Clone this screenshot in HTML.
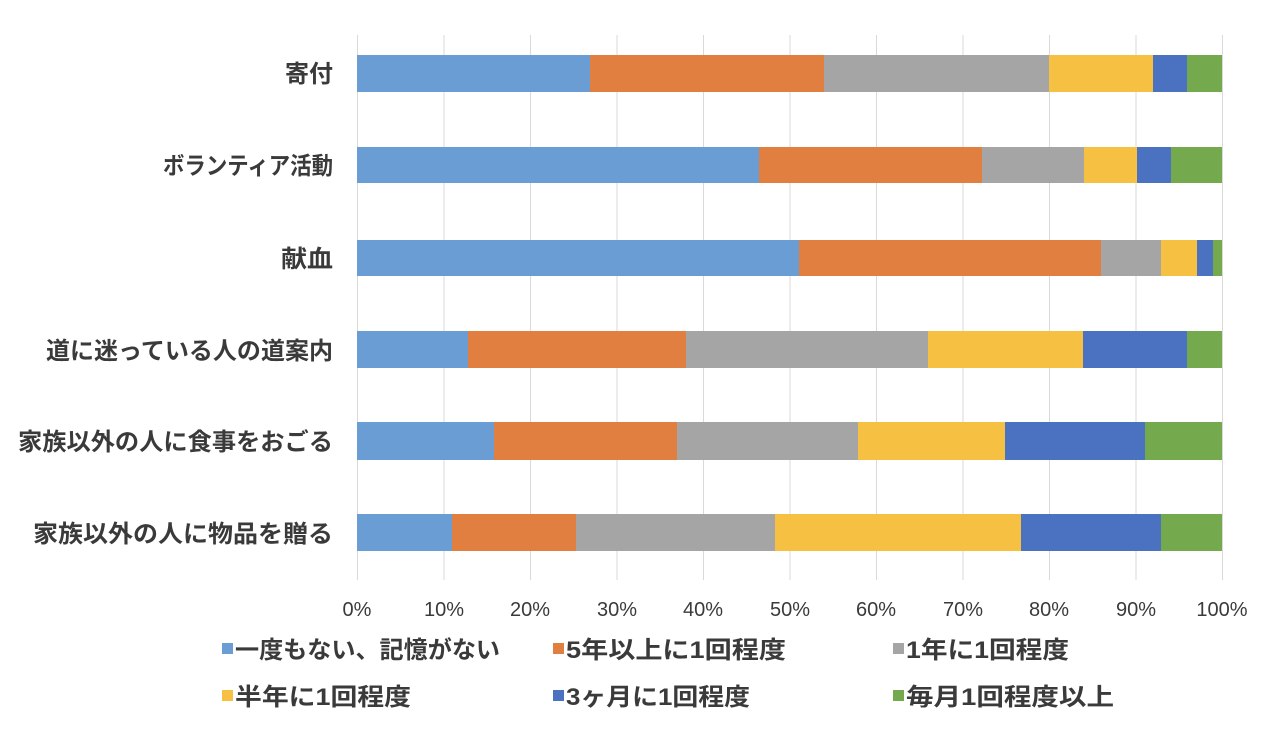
<!DOCTYPE html>
<html><head><meta charset="utf-8"><style>
html,body{margin:0;padding:0;background:#fff;}
svg{display:block;font-family:"Liberation Sans","Noto Sans CJK JP",sans-serif;}
</style></head><body>
<svg width="1280" height="743" viewBox="0 0 1280 743" xmlns="http://www.w3.org/2000/svg">
<rect width="1280" height="743" fill="#fff"/>
<g stroke="#d9d9d9" stroke-width="1">
<line x1="357.5" y1="35" x2="357.5" y2="580"/>
<line x1="444" y1="35" x2="444" y2="580"/>
<line x1="530.5" y1="35" x2="530.5" y2="580"/>
<line x1="617" y1="35" x2="617" y2="580"/>
<line x1="703.5" y1="35" x2="703.5" y2="580"/>
<line x1="790" y1="35" x2="790" y2="580"/>
<line x1="876.5" y1="35" x2="876.5" y2="580"/>
<line x1="963" y1="35" x2="963" y2="580"/>
<line x1="1049.5" y1="35" x2="1049.5" y2="580"/>
<line x1="1136" y1="35" x2="1136" y2="580"/>
<line x1="1222.5" y1="35" x2="1222.5" y2="580"/>
</g>
<g>
<rect x="357" y="55" width="233" height="37" fill="#6a9dd3"/>
<rect x="590" y="55" width="234" height="37" fill="#e07f3f"/>
<rect x="824" y="55" width="225" height="37" fill="#a5a5a5"/>
<rect x="1049" y="55" width="104" height="37" fill="#f6c142"/>
<rect x="1153" y="55" width="34" height="37" fill="#4a72c0"/>
<rect x="1187" y="55" width="35" height="37" fill="#75a94d"/>
</g>
<g>
<rect x="357" y="147" width="402" height="36" fill="#6a9dd3"/>
<rect x="759" y="147" width="223" height="36" fill="#e07f3f"/>
<rect x="982" y="147" width="102" height="36" fill="#a5a5a5"/>
<rect x="1084" y="147" width="53" height="36" fill="#f6c142"/>
<rect x="1137" y="147" width="34" height="36" fill="#4a72c0"/>
<rect x="1171" y="147" width="51" height="36" fill="#75a94d"/>
</g>
<g>
<rect x="357" y="240" width="442" height="36" fill="#6a9dd3"/>
<rect x="799" y="240" width="302" height="36" fill="#e07f3f"/>
<rect x="1101" y="240" width="60" height="36" fill="#a5a5a5"/>
<rect x="1161" y="240" width="36" height="36" fill="#f6c142"/>
<rect x="1197" y="240" width="16" height="36" fill="#4a72c0"/>
<rect x="1213" y="240" width="9" height="36" fill="#75a94d"/>
</g>
<g>
<rect x="357" y="331" width="111" height="37" fill="#6a9dd3"/>
<rect x="468" y="331" width="218" height="37" fill="#e07f3f"/>
<rect x="686" y="331" width="242" height="37" fill="#a5a5a5"/>
<rect x="928" y="331" width="155" height="37" fill="#f6c142"/>
<rect x="1083" y="331" width="104" height="37" fill="#4a72c0"/>
<rect x="1187" y="331" width="35" height="37" fill="#75a94d"/>
</g>
<g>
<rect x="357" y="422" width="137" height="38" fill="#6a9dd3"/>
<rect x="494" y="422" width="183" height="38" fill="#e07f3f"/>
<rect x="677" y="422" width="181" height="38" fill="#a5a5a5"/>
<rect x="858" y="422" width="147" height="38" fill="#f6c142"/>
<rect x="1005" y="422" width="140" height="38" fill="#4a72c0"/>
<rect x="1145" y="422" width="77" height="38" fill="#75a94d"/>
</g>
<g>
<rect x="357" y="514" width="95" height="37" fill="#6a9dd3"/>
<rect x="452" y="514" width="124" height="37" fill="#e07f3f"/>
<rect x="576" y="514" width="199" height="37" fill="#a5a5a5"/>
<rect x="775" y="514" width="246" height="37" fill="#f6c142"/>
<rect x="1021" y="514" width="140" height="37" fill="#4a72c0"/>
<rect x="1161" y="514" width="61" height="37" fill="#75a94d"/>
</g>
<g fill="#3a3a3a" font-size="24" font-weight="bold" text-anchor="end">
<text x="333" y="82" textLength="48" lengthAdjust="spacingAndGlyphs">寄付</text>
<text x="333" y="174" textLength="170" lengthAdjust="spacingAndGlyphs">ボランティア活動</text>
<text x="333" y="267" textLength="52" lengthAdjust="spacingAndGlyphs">献血</text>
<text x="333" y="359" textLength="287" lengthAdjust="spacingAndGlyphs">道に迷っている人の道案内</text>
<text x="333" y="450" textLength="315" lengthAdjust="spacingAndGlyphs">家族以外の人に食事をおごる</text>
<text x="333" y="542" textLength="300" lengthAdjust="spacingAndGlyphs">家族以外の人に物品を贈る</text>
</g>
<g fill="#3a3a3a" font-size="20" text-anchor="middle">
<text x="357" y="616">0%</text>
<text x="444" y="616">10%</text>
<text x="530" y="616">20%</text>
<text x="617" y="616">30%</text>
<text x="703" y="616">40%</text>
<text x="790" y="616">50%</text>
<text x="876" y="616">60%</text>
<text x="963" y="616">70%</text>
<text x="1049" y="616">80%</text>
<text x="1136" y="616">90%</text>
<text x="1222" y="616">100%</text>
</g>
<g font-size="24" font-weight="bold" fill="#3a3a3a">
<rect x="222" y="643" width="11" height="11" fill="#6a9dd3"/>
<text x="235" y="658" textLength="265" lengthAdjust="spacingAndGlyphs">一度もない、記憶がない</text>
<rect x="553" y="643" width="11" height="11" fill="#e07f3f"/>
<text x="566" y="658" textLength="220" lengthAdjust="spacingAndGlyphs">5年以上に1回程度</text>
<rect x="893" y="643" width="11" height="11" fill="#a5a5a5"/>
<text x="906" y="658" textLength="163" lengthAdjust="spacingAndGlyphs">1年に1回程度</text>
<rect x="222" y="690" width="11" height="11" fill="#f6c142"/>
<text x="235" y="705" textLength="176" lengthAdjust="spacingAndGlyphs">半年に1回程度</text>
<rect x="553" y="690" width="11" height="11" fill="#4a72c0"/>
<text x="566" y="705" textLength="184" lengthAdjust="spacingAndGlyphs">3ヶ月に1回程度</text>
<rect x="893" y="690" width="11" height="11" fill="#75a94d"/>
<text x="906" y="705" textLength="208" lengthAdjust="spacingAndGlyphs">毎月1回程度以上</text>
</g>
</svg>
</body></html>
